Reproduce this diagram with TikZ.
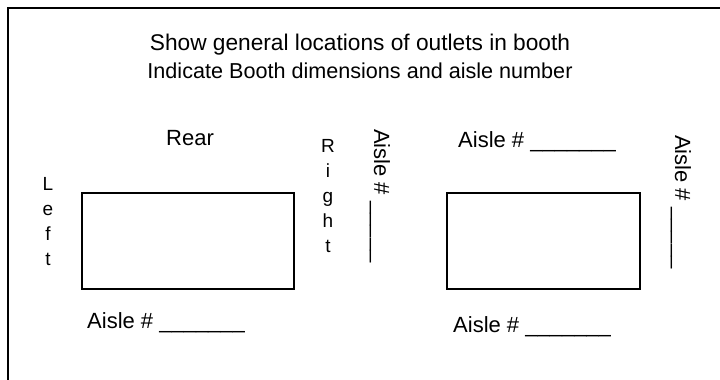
\documentclass[tikz,border=0pt]{standalone}
\usepackage{fontspec}
\setmainfont{Liberation Sans}
\begin{document}
\tikzset{
  lbl/.style={inner sep=0pt, font=\fontsize{22}{25}\selectfont},
  titletext/.style={inner sep=0pt, font=\fontsize{22.7}{25}\selectfont, anchor=base},
  vlbl/.style={inner sep=0pt, font=\fontsize{22}{25}\selectfont, rotate=-90, anchor=base west},
  letter/.style={inner sep=0pt, font=\fontsize{19}{25}\selectfont, anchor=base},
  booth/.style={draw, line width=2pt, minimum width=212pt, minimum height=96pt, inner sep=0pt},
  frameline/.style={line width=2pt}
}
\begin{tikzpicture}[x=1pt,y=1pt]
\useasboundingbox (0,0) rectangle (720,-380);
\draw[frameline] (8,-381) -- (8,-8) -- (721,-8);
\node[titletext] (title1) at (360,-50) {Show general locations of outlets in booth};
\node[titletext, font=\fontsize{21.6}{25}\selectfont] (title2) at (360,-78) {Indicate Booth dimensions and aisle number};
\node[lbl, anchor=base] (rear) at (190,-145) {Rear};
\node[booth] (boothL) at (188,-241) {};
\node[booth, minimum width=193pt] (boothR) at (543.5,-241) {};
\foreach \ch [count=\i] in {L,e,f,t}
  \node[letter] (left\i) at (48,{-190-25*(\i-1)}) {\ch};
\foreach \ch [count=\i] in {R,i,g,h,t}
  \node[letter] (right\i) at (328,{-152-25*(\i-1)}) {\ch};
\node[vlbl] (aisleM) at (374,-129) {Aisle \# \_\_\_\_\_};
\node[vlbl] (aisleR) at (675,-135) {Aisle \# \_\_\_\_\_};
\node[lbl, anchor=base west] (aisleTR) at (458,-147) {Aisle \# \_\_\_\_\_\_\_};
\node[lbl, anchor=base west] (aisleBL) at (87,-328) {Aisle \# \_\_\_\_\_\_\_};
\node[lbl, anchor=base west] (aisleBR) at (453,-332) {Aisle \# \_\_\_\_\_\_\_};
\end{tikzpicture}
\end{document}
